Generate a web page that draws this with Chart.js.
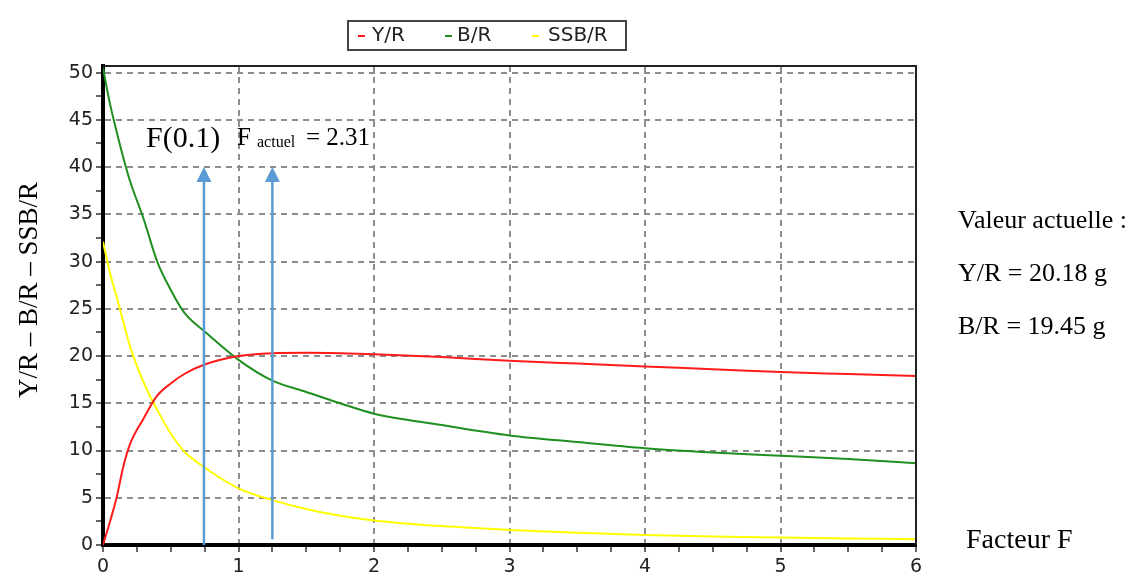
<!DOCTYPE html>
<html>
<head>
<meta charset="utf-8">
<script src="https://cdn.jsdelivr.net/npm/chart.js@4.4.0/dist/chart.umd.min.js"></script>
<style>
  html, body { margin: 0; padding: 0; background: #fff; }
  canvas { display: block; }
</style>
</head>
<body>
<canvas id="chart" width="1133" height="576"></canvas>
<script>
// fishing mortality factor F and per-recruit curves
const fValues = [0, 0.05, 0.1, 0.15, 0.2, 0.3, 0.4, 0.5, 0.6, 0.75, 1, 1.25, 1.5, 1.75, 2, 2.5, 3, 3.5, 4, 4.5, 5, 5.5, 6];
const yieldPerRecruit = [0, 2.4, 5, 8.3, 10.7, 13.4, 15.8, 17.1, 18.1, 19.1, 20, 20.3, 20.35, 20.3, 20.2, 19.9, 19.5, 19.2, 18.9, 18.6, 18.3, 18.1, 17.9];
const biomassPerRecruit = [50.5, 46.8, 43.8, 41, 38.5, 34.5, 30, 27, 24.6, 22.6, 19.6, 17.4, 16.2, 15, 13.9, 12.7, 11.6, 10.9, 10.25, 9.8, 9.45, 9.1, 8.65];
const ssbPerRecruit = [32.1, 28.9, 26.3, 23.6, 21, 17.2, 14.3, 11.8, 9.9, 8.2, 6, 4.75, 3.8, 3.1, 2.6, 2, 1.6, 1.3, 1.05, 0.9, 0.8, 0.7, 0.6];

const seriesNames = ['Y/R', 'B/R', 'SSB/R'];
const seriesColors = ['#ff1a1a', '#1f8f1f', '#ffff00'];

const xTickLabels = [0, 1, 2, 3, 4, 5, 6];
const yTickLabels = [0, 5, 10, 15, 20, 25, 30, 35, 40, 45, 50];

// arrows for F(0.1) and F actuel
const arrowF = [0.745, 1.25];
const arrowFrom = [0, 0.6];
const arrowTo = 40;

const tickFont = { family: 'DejaVu Sans', size: 19 };

function toPoints(vals) {
  return fValues.map((f, i) => ({ x: f, y: vals[i] }));
}

const decor = {
  id: 'decor',
  afterDatasetsDraw(chart) {
    const { ctx, chartArea: a, scales: { x, y } } = chart;
    ctx.save();
    // top and right frame
    ctx.strokeStyle = '#222';
    ctx.lineWidth = 2;
    ctx.beginPath();
    ctx.moveTo(a.left, a.top);
    ctx.lineTo(a.right, a.top);
    ctx.lineTo(a.right, a.bottom);
    ctx.stroke();

    // blue arrows
    ctx.strokeStyle = '#5b9bd5';
    ctx.fillStyle = '#5b9bd5';
    ctx.lineWidth = 2.5;
    arrowF.forEach((f, i) => {
      const px = x.getPixelForValue(f);
      const y0 = y.getPixelForValue(arrowFrom[i]);
      const y1 = y.getPixelForValue(arrowTo);
      ctx.beginPath();
      ctx.moveTo(px, y0);
      ctx.lineTo(px, y1 + 12);
      ctx.stroke();
      ctx.beginPath();
      ctx.moveTo(px, y1);
      ctx.lineTo(px - 7.5, y1 + 15);
      ctx.lineTo(px + 7.5, y1 + 15);
      ctx.closePath();
      ctx.fill();
    });

    // annotations
    ctx.fillStyle = '#000';
    ctx.textBaseline = 'alphabetic';
    ctx.textAlign = 'left';
    ctx.font = '30px "Liberation Serif"';
    ctx.fillText('F(0.1)', 146, 147);
    ctx.font = '25px "Liberation Serif"';
    ctx.fillText('F', 237, 145);
    ctx.fillText('= 2.31', 306, 145);
    ctx.font = '16px "Liberation Serif"';
    ctx.fillText('actuel', 257, 147);

    ctx.font = '26px "Liberation Serif"';
    ctx.fillText('Valeur actuelle :', 958, 228);
    ctx.fillText('Y/R = 20.18 g', 958, 281);
    ctx.fillText('B/R = 19.45 g', 958, 334);
    ctx.font = '28px "Liberation Serif"';
    ctx.fillText('Facteur F', 966, 548);

    // y axis title
    ctx.save();
    ctx.translate(37, 290);
    ctx.rotate(-Math.PI / 2);
    ctx.textAlign = 'center';
    ctx.font = '27px "Liberation Serif"';
    ctx.fillText('Y/R \u2013 B/R \u2013 SSB/R', 0, 0);
    ctx.restore();

    // legend box
    ctx.strokeStyle = '#444';
    ctx.lineWidth = 2;
    ctx.strokeRect(348, 21, 278, 29);
    const markX = [358, 445, 532];
    const textX = [372, 457, 548];
    ctx.font = '20px "DejaVu Sans"';
    ctx.textBaseline = 'middle';
    chart.data.datasets.forEach((ds, i) => {
      ctx.fillStyle = ds.borderColor;
      ctx.fillRect(markX[i], 35, 7, 2);
      ctx.fillStyle = '#222';
      ctx.fillText(ds.label, textX[i], 36);
    });
    ctx.restore();
  }
};

const isNear = (v, list) => list.some(t => Math.abs(t - v) < 1e-6);

new Chart(document.getElementById('chart'), {
  type: 'line',
  data: {
    datasets: [
      { label: seriesNames[0], data: toPoints(yieldPerRecruit), borderColor: seriesColors[0] },
      { label: seriesNames[1], data: toPoints(biomassPerRecruit), borderColor: seriesColors[1] },
      { label: seriesNames[2], data: toPoints(ssbPerRecruit), borderColor: seriesColors[2] }
    ]
  },
  options: {
    responsive: false,
    animation: false,
    parsing: false,
    layout: { padding: { top: 66, right: 217, bottom: 0, left: 0 } },
    elements: {
      point: { radius: 0 },
      line: { borderWidth: 2, cubicInterpolationMode: 'monotone', fill: false }
    },
    plugins: { legend: { display: false }, tooltip: { enabled: false } },
    scales: {
      x: {
        type: 'linear',
        min: 0,
        max: 6,
        afterFit: s => { s.height = 31; },
        ticks: {
          stepSize: 0.25,
          autoSkip: false,
          maxRotation: 0,
          padding: 4,
          font: tickFont,
          color: '#222',
          callback: v => isNear(v, xTickLabels) ? String(Math.round(v)) : ''
        },
        grid: {
          color: c => (c.tick && isNear(c.tick.value, xTickLabels) && c.tick.value > 0 && c.tick.value < 6) ? '#8c8c8c' : 'rgba(0,0,0,0)',
          tickColor: '#666',
          tickLength: 7,
          lineWidth: 2
        },
        border: { color: '#000', width: 4, dash: [6, 5] }
      },
      y: {
        min: 0,
        max: 50.7,
        afterFit: s => { s.width = 103; },
        ticks: {
          stepSize: 2.5,
          includeBounds: false,
          autoSkip: false,
          padding: 3,
          font: tickFont,
          color: '#222',
          callback: v => isNear(v, yTickLabels) ? String(Math.round(v)) : ''
        },
        grid: {
          color: c => (c.tick && isNear(c.tick.value, yTickLabels) && c.tick.value > 0) ? '#8c8c8c' : 'rgba(0,0,0,0)',
          tickColor: '#666',
          tickLength: 7,
          lineWidth: 2
        },
        border: { color: '#000', width: 4, dash: [6, 5] }
      }
    }
  },
  plugins: [decor]
});
</script>
</body>
</html>
